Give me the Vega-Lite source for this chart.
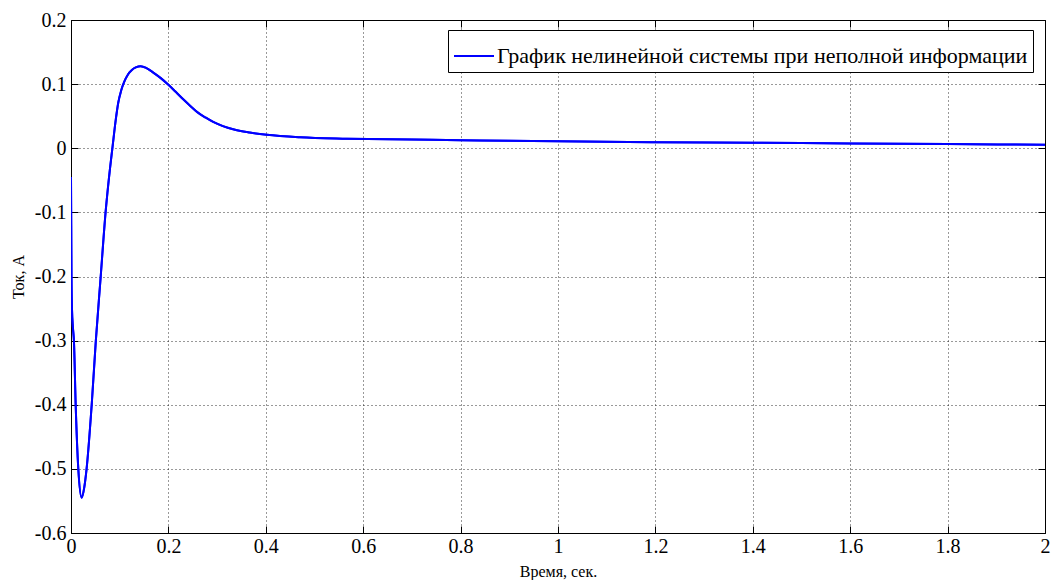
{
  "$schema": "https://vega.github.io/schema/vega-lite/v6.json",
  "width": 974,
  "height": 513,
  "autosize": {"type": "none"},
  "padding": {"left": 71, "top": 20, "right": 10, "bottom": 47},
  "background": "white",
  "config": {
    "view": {"stroke": "black", "strokeWidth": 1},
    "font": "Liberation Serif"
  },
  "data": {
    "values": [
      {"t": 0, "v": -0.045, "s": "График нелинейной системы при неполной информации"},
      {"t": 0.0005, "v": -0.12, "s": "График нелинейной системы при неполной информации"},
      {"t": 0.001, "v": -0.2, "s": "График нелинейной системы при неполной информации"},
      {"t": 0.002, "v": -0.25, "s": "График нелинейной системы при неполной информации"},
      {"t": 0.004, "v": -0.28, "s": "График нелинейной системы при неполной информации"},
      {"t": 0.006, "v": -0.3, "s": "График нелинейной системы при неполной информации"},
      {"t": 0.0096, "v": -0.4, "s": "График нелинейной системы при неполной информации"},
      {"t": 0.015, "v": -0.5, "s": "График нелинейной системы при неполной информации"},
      {"t": 0.022, "v": -0.545, "s": "График нелинейной системы при неполной информации"},
      {"t": 0.027, "v": -0.53, "s": "График нелинейной системы при неполной информации"},
      {"t": 0.032, "v": -0.5, "s": "График нелинейной системы при неполной информации"},
      {"t": 0.0425, "v": -0.4, "s": "График нелинейной системы при неполной информации"},
      {"t": 0.051, "v": -0.3, "s": "График нелинейной системы при неполной информации"},
      {"t": 0.061, "v": -0.2, "s": "График нелинейной системы при неполной информации"},
      {"t": 0.071, "v": -0.1, "s": "График нелинейной системы при неполной информации"},
      {"t": 0.08, "v": -0.032, "s": "График нелинейной системы при неполной информации"},
      {"t": 0.085, "v": 0, "s": "График нелинейной системы при неполной информации"},
      {"t": 0.092, "v": 0.045, "s": "График нелинейной системы при неполной информации"},
      {"t": 0.097, "v": 0.071, "s": "График нелинейной системы при неполной информации"},
      {"t": 0.103, "v": 0.09, "s": "График нелинейной системы при неполной информации"},
      {"t": 0.109, "v": 0.103, "s": "График нелинейной системы при неполной информации"},
      {"t": 0.117, "v": 0.115, "s": "График нелинейной системы при неполной информации"},
      {"t": 0.125, "v": 0.122, "s": "График нелинейной системы при неполной информации"},
      {"t": 0.133, "v": 0.126, "s": "График нелинейной системы при неполной информации"},
      {"t": 0.143, "v": 0.128, "s": "График нелинейной системы при неполной информации"},
      {"t": 0.155, "v": 0.125, "s": "График нелинейной системы при неполной информации"},
      {"t": 0.169, "v": 0.118, "s": "График нелинейной системы при неполной информации"},
      {"t": 0.185, "v": 0.109, "s": "График нелинейной системы при неполной информации"},
      {"t": 0.2, "v": 0.099, "s": "График нелинейной системы при неполной информации"},
      {"t": 0.215, "v": 0.088, "s": "График нелинейной системы при неполной информации"},
      {"t": 0.231, "v": 0.076, "s": "График нелинейной системы при неполной информации"},
      {"t": 0.245, "v": 0.066, "s": "График нелинейной системы при неполной информации"},
      {"t": 0.26, "v": 0.056, "s": "График нелинейной системы при неполной информации"},
      {"t": 0.276, "v": 0.048, "s": "График нелинейной системы при неполной информации"},
      {"t": 0.292, "v": 0.041, "s": "График нелинейной системы при неполной информации"},
      {"t": 0.312, "v": 0.0345, "s": "График нелинейной системы при неполной информации"},
      {"t": 0.333, "v": 0.0295, "s": "График нелинейной системы при неполной информации"},
      {"t": 0.367, "v": 0.0245, "s": "График нелинейной системы при неполной информации"},
      {"t": 0.402, "v": 0.0210, "s": "График нелинейной системы при неполной информации"},
      {"t": 0.47, "v": 0.0172, "s": "График нелинейной системы при неполной информации"},
      {"t": 0.566, "v": 0.015, "s": "График нелинейной системы при неполной информации"},
      {"t": 0.7, "v": 0.0135, "s": "График нелинейной системы при неполной информации"},
      {"t": 0.8, "v": 0.0125, "s": "График нелинейной системы при неполной информации"},
      {"t": 0.9, "v": 0.0117, "s": "График нелинейной системы при неполной информации"},
      {"t": 1.0, "v": 0.011, "s": "График нелинейной системы при неполной информации"},
      {"t": 1.2, "v": 0.0095, "s": "График нелинейной системы при неполной информации"},
      {"t": 1.4, "v": 0.0085, "s": "График нелинейной системы при неполной информации"},
      {"t": 1.6, "v": 0.0075, "s": "График нелинейной системы при неполной информации"},
      {"t": 1.8, "v": 0.0065, "s": "График нелинейной системы при неполной информации"},
      {"t": 2.0, "v": 0.0055, "s": "График нелинейной системы при неполной информации"}
    ]
  },
  "layer": [
    {
      "mark": {"type": "line", "color": "#0000ff", "strokeWidth": 2, "interpolate": "monotone", "clip": true},
      "encoding": {
        "x": {"field": "t", "type": "quantitative", "scale": {"domain": [0, 2], "nice": false, "zero": false},
          "axis": {"orient": "top", "labels": false, "title": null, "grid": false, "domain": false, "tickSize": -7, "tickColor": "black", "values": [0, 0.2, 0.4, 0.6, 0.8, 1, 1.2, 1.4, 1.6, 1.8, 2]}},
        "y": {"field": "v", "type": "quantitative", "scale": {"domain": [-0.6, 0.2], "nice": false, "zero": false},
          "axis": {"orient": "right", "labels": false, "title": null, "grid": false, "domain": false, "tickSize": -7, "tickColor": "black", "values": [-0.6, -0.5, -0.4, -0.3, -0.2, -0.1, 0, 0.1, 0.2]}}
      }
    },
    {
      "mark": {"type": "line", "strokeWidth": 2, "interpolate": "monotone", "clip": true},
      "encoding": {
        "x": {"field": "t", "type": "quantitative", "scale": {"domain": [0, 2], "nice": false, "zero": false},
          "axis": {"orient": "bottom", "title": "Время, сек.", "titleFont": "Liberation Serif", "titleFontSize": 16, "titleFontWeight": "normal", "titleColor": "black", "titlePadding": 7,
            "values": [0, 0.2, 0.4, 0.6, 0.8, 1, 1.2, 1.4, 1.6, 1.8, 2],
            "labelExpr": "replace(format(datum.value, '~g'), '\u2212', '-')",
            "labelFont": "Liberation Serif", "labelFontSize": 20, "labelColor": "black", "labelPadding": 10, "labelFlush": false,
            "tickSize": -7, "tickColor": "black", "domain": false,
            "grid": true, "gridColor": "#000", "gridDash": [1, 3], "gridWidth": 1, "gridOpacity": 0.8}},
        "y": {"field": "v", "type": "quantitative", "scale": {"domain": [-0.6, 0.2], "nice": false, "zero": false},
          "axis": {"orient": "left", "title": "Ток, А", "titleFont": "Liberation Serif", "titleFontSize": 16, "titleFontWeight": "normal", "titleColor": "black", "titlePadding": 8,
            "values": [-0.6, -0.5, -0.4, -0.3, -0.2, -0.1, 0, 0.1, 0.2],
            "labelExpr": "replace(format(datum.value, '~g'), '\u2212', '-')",
            "labelFont": "Liberation Serif", "labelFontSize": 20, "labelColor": "black", "labelPadding": 12, "labelFlush": false,
            "tickSize": -7, "tickColor": "black", "domain": false,
            "grid": true, "gridColor": "#000", "gridDash": [1, 3], "gridWidth": 1, "gridOpacity": 0.8}},
        "color": {"field": "s", "type": "nominal", "scale": {"range": ["#0000ff"]},
          "legend": {"orient": "none", "legendX": 377, "legendY": 10, "title": null,
            "symbolType": "stroke", "symbolSize": 1600, "symbolStrokeWidth": 2,
            "labelFont": "Liberation Serif", "labelFontSize": 22, "labelColor": "black", "labelLimit": 800,
            "fillColor": "white", "strokeColor": "black", "padding": 5, "labelOffset": 2}}
      }
    }
  ],
  "resolve": {"axis": {"x": "independent", "y": "independent"}}
}
